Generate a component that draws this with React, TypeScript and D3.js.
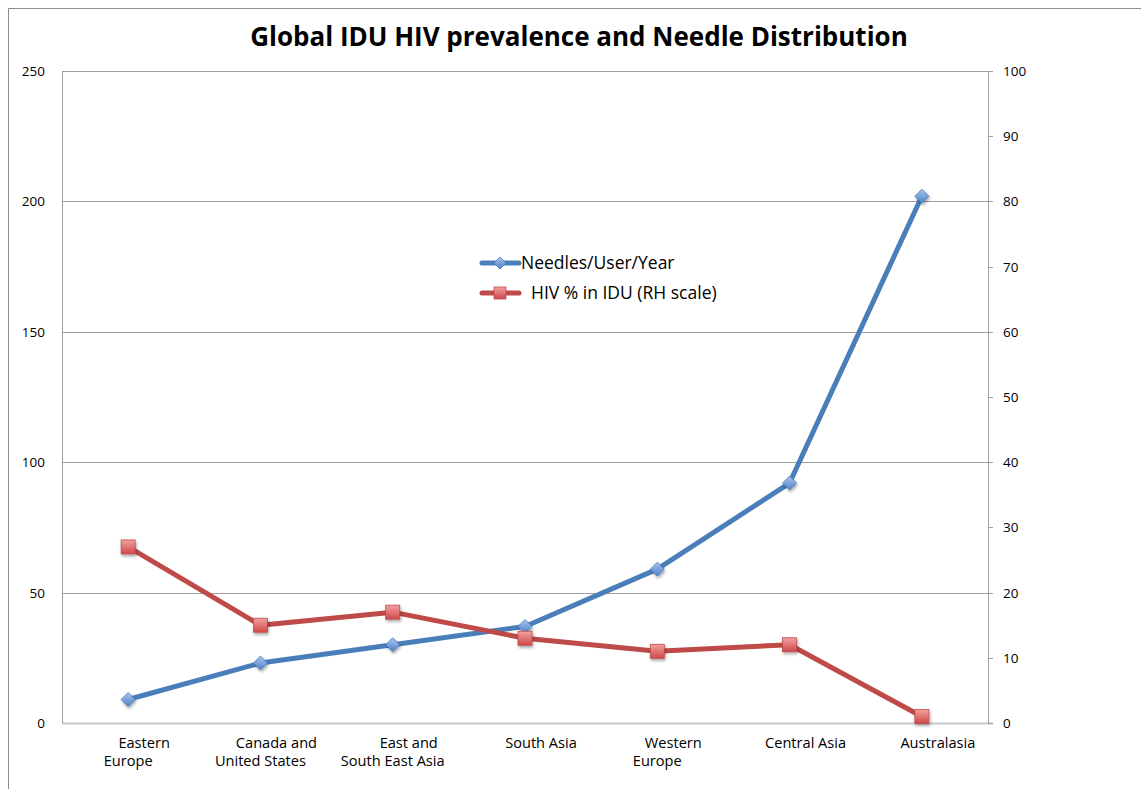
import React from "react";
import * as d3 from "d3";

const categories: string[][] = [
  ["Eastern", "Europe"],
  ["Canada and", "United States"],
  ["East and", "South East Asia"],
  ["South Asia"],
  ["Western", "Europe"],
  ["Central Asia"],
  ["Australasia"],
];
const needles: number[] = [9, 23, 30, 37, 59, 92, 202];
const hiv: number[] = [27, 15, 17, 13, 11, 12, 1];
const leftTicks: number[] = [0, 50, 100, 150, 200, 250];
const rightTicks: number[] = [0, 10, 20, 30, 40, 50, 60, 70, 80, 90, 100];
const seriesNames = ["Needles/User/Year", "HIV % in IDU (RH scale)"];

const W = 1141, H = 789;
const m = { left: 62, right: 988, top: 71, bottom: 723 };
const FONT = "'Open Sans', 'Liberation Sans', sans-serif";

export default function App() {
  const x = d3.scaleBand<number>().domain(d3.range(categories.length)).range([m.left, m.right]);
  const cx = (i: number) => (x(i) as number) + x.bandwidth() / 2;
  const yL = d3.scaleLinear().domain([0, 250]).range([m.bottom, m.top]);
  const yR = d3.scaleLinear().domain([0, 100]).range([m.bottom, m.top]);
  const blueLine = d3.line<number>().x((_, i) => cx(i)).y((d) => yL(d));
  const redLine = d3.line<number>().x((_, i) => cx(i)).y((d) => yR(d));
  const diamond = (px: number, py: number, r = 7) =>
    `M${px},${py - r}L${px + r},${py}L${px},${py + r}L${px - r},${py}Z`;

  return (
    <svg width={W} height={H} style={{ position: "absolute", left: 0, top: 0, background: "#fff" }}>
      <defs>
        <linearGradient id="gBlue" x1="0" y1="0" x2="0" y2="1">
          <stop offset="0" stopColor="#a9c6ee" />
          <stop offset="1" stopColor="#4f81c9" />
        </linearGradient>
        <linearGradient id="gRed" x1="0" y1="0" x2="0" y2="1">
          <stop offset="0" stopColor="#f2a2a0" />
          <stop offset="1" stopColor="#d0484a" />
        </linearGradient>
        <filter id="sh" x="-50%" y="-50%" width="200%" height="200%">
          <feDropShadow dx="1" dy="2" stdDeviation="1.5" floodColor="#000" floodOpacity="0.35" />
        </filter>
      </defs>
      <path d={`M8.5,${H}V8.5H${W}`} fill="none" stroke="#8c8c8c" strokeWidth={1} />
      <text x={579} y={46} textAnchor="middle" fontFamily={FONT} fontWeight="bold" fontSize={26} fill="#000">
        Global IDU HIV prevalence and Needle Distribution
      </text>
      {leftTicks.map((t) => (
        <line key={t} x1={m.left} x2={m.right + 5} y1={Math.round(yL(t)) + 0.5} y2={Math.round(yL(t)) + 0.5}
          stroke={t === 0 ? "#c8c8c8" : "#a0a0a0"} strokeWidth={t === 0 ? 2 : 1} />
      ))}
      {rightTicks.map((t) => (
        <line key={t} x1={m.right} x2={m.right + 5} y1={Math.round(yR(t)) + 0.5} y2={Math.round(yR(t)) + 0.5}
          stroke="#a0a0a0" strokeWidth={1} />
      ))}
      <line x1={m.left + 0.5} x2={m.left + 0.5} y1={m.top} y2={m.bottom} stroke="#a0a0a0" />
      <line x1={m.right + 0.5} x2={m.right + 0.5} y1={m.top} y2={m.bottom} stroke="#a0a0a0" />
      {leftTicks.map((t) => (
        <text key={t} x={45} y={yL(t) + 5} textAnchor="end" fontFamily={FONT} fontSize={13.5} fill="#000">{t}</text>
      ))}
      {rightTicks.map((t) => (
        <text key={t} x={1003} y={yR(t) + 5} textAnchor="start" fontFamily={FONT} fontSize={13.5} fill="#000">{t}</text>
      ))}
      {categories.map((lines, i) => (
        <g key={i}>
          {lines.map((s, j) => (
            <text key={j} x={cx(i) + (j === 0 ? 16 : 0)} y={748 + j * 18} textAnchor="middle"
              fontFamily={FONT} fontSize={14.6} fill="#000">{s}</text>
          ))}
        </g>
      ))}
      <path d={blueLine(needles) || ""} fill="none" stroke="#4a7ebb" strokeWidth={5} strokeLinejoin="round" />
      <path d={redLine(hiv) || ""} fill="none" stroke="#be4b48" strokeWidth={5} strokeLinejoin="round" />
      {needles.map((d, i) => (
        <path key={i} d={diamond(cx(i), yL(d))} fill="url(#gBlue)" stroke="#4a7ebb" strokeWidth={0.8} filter="url(#sh)" />
      ))}
      {hiv.map((d, i) => (
        <rect key={i} x={cx(i) - 7} y={yR(d) - 7} width={14} height={14} fill="url(#gRed)" stroke="#be4b48"
          strokeWidth={0.8} filter="url(#sh)" />
      ))}
      <line x1={482} x2={519} y1={263} y2={263} stroke="#4a7ebb" strokeWidth={5} strokeLinecap="round" />
      <path d={diamond(500, 263, 6)} fill="url(#gBlue)" stroke="#4a7ebb" strokeWidth={0.8} />
      <text x={521} y={269} fontFamily={FONT} fontSize={17.5} fill="#000">{seriesNames[0]}</text>
      <line x1={482} x2={519} y1={293} y2={293} stroke="#be4b48" strokeWidth={5} strokeLinecap="round" />
      <rect x={494} y={287} width={12} height={12} fill="url(#gRed)" stroke="#be4b48" strokeWidth={0.8} />
      <text x={531} y={299} fontFamily={FONT} fontSize={17.5} fill="#000">{seriesNames[1]}</text>
    </svg>
  );
}
